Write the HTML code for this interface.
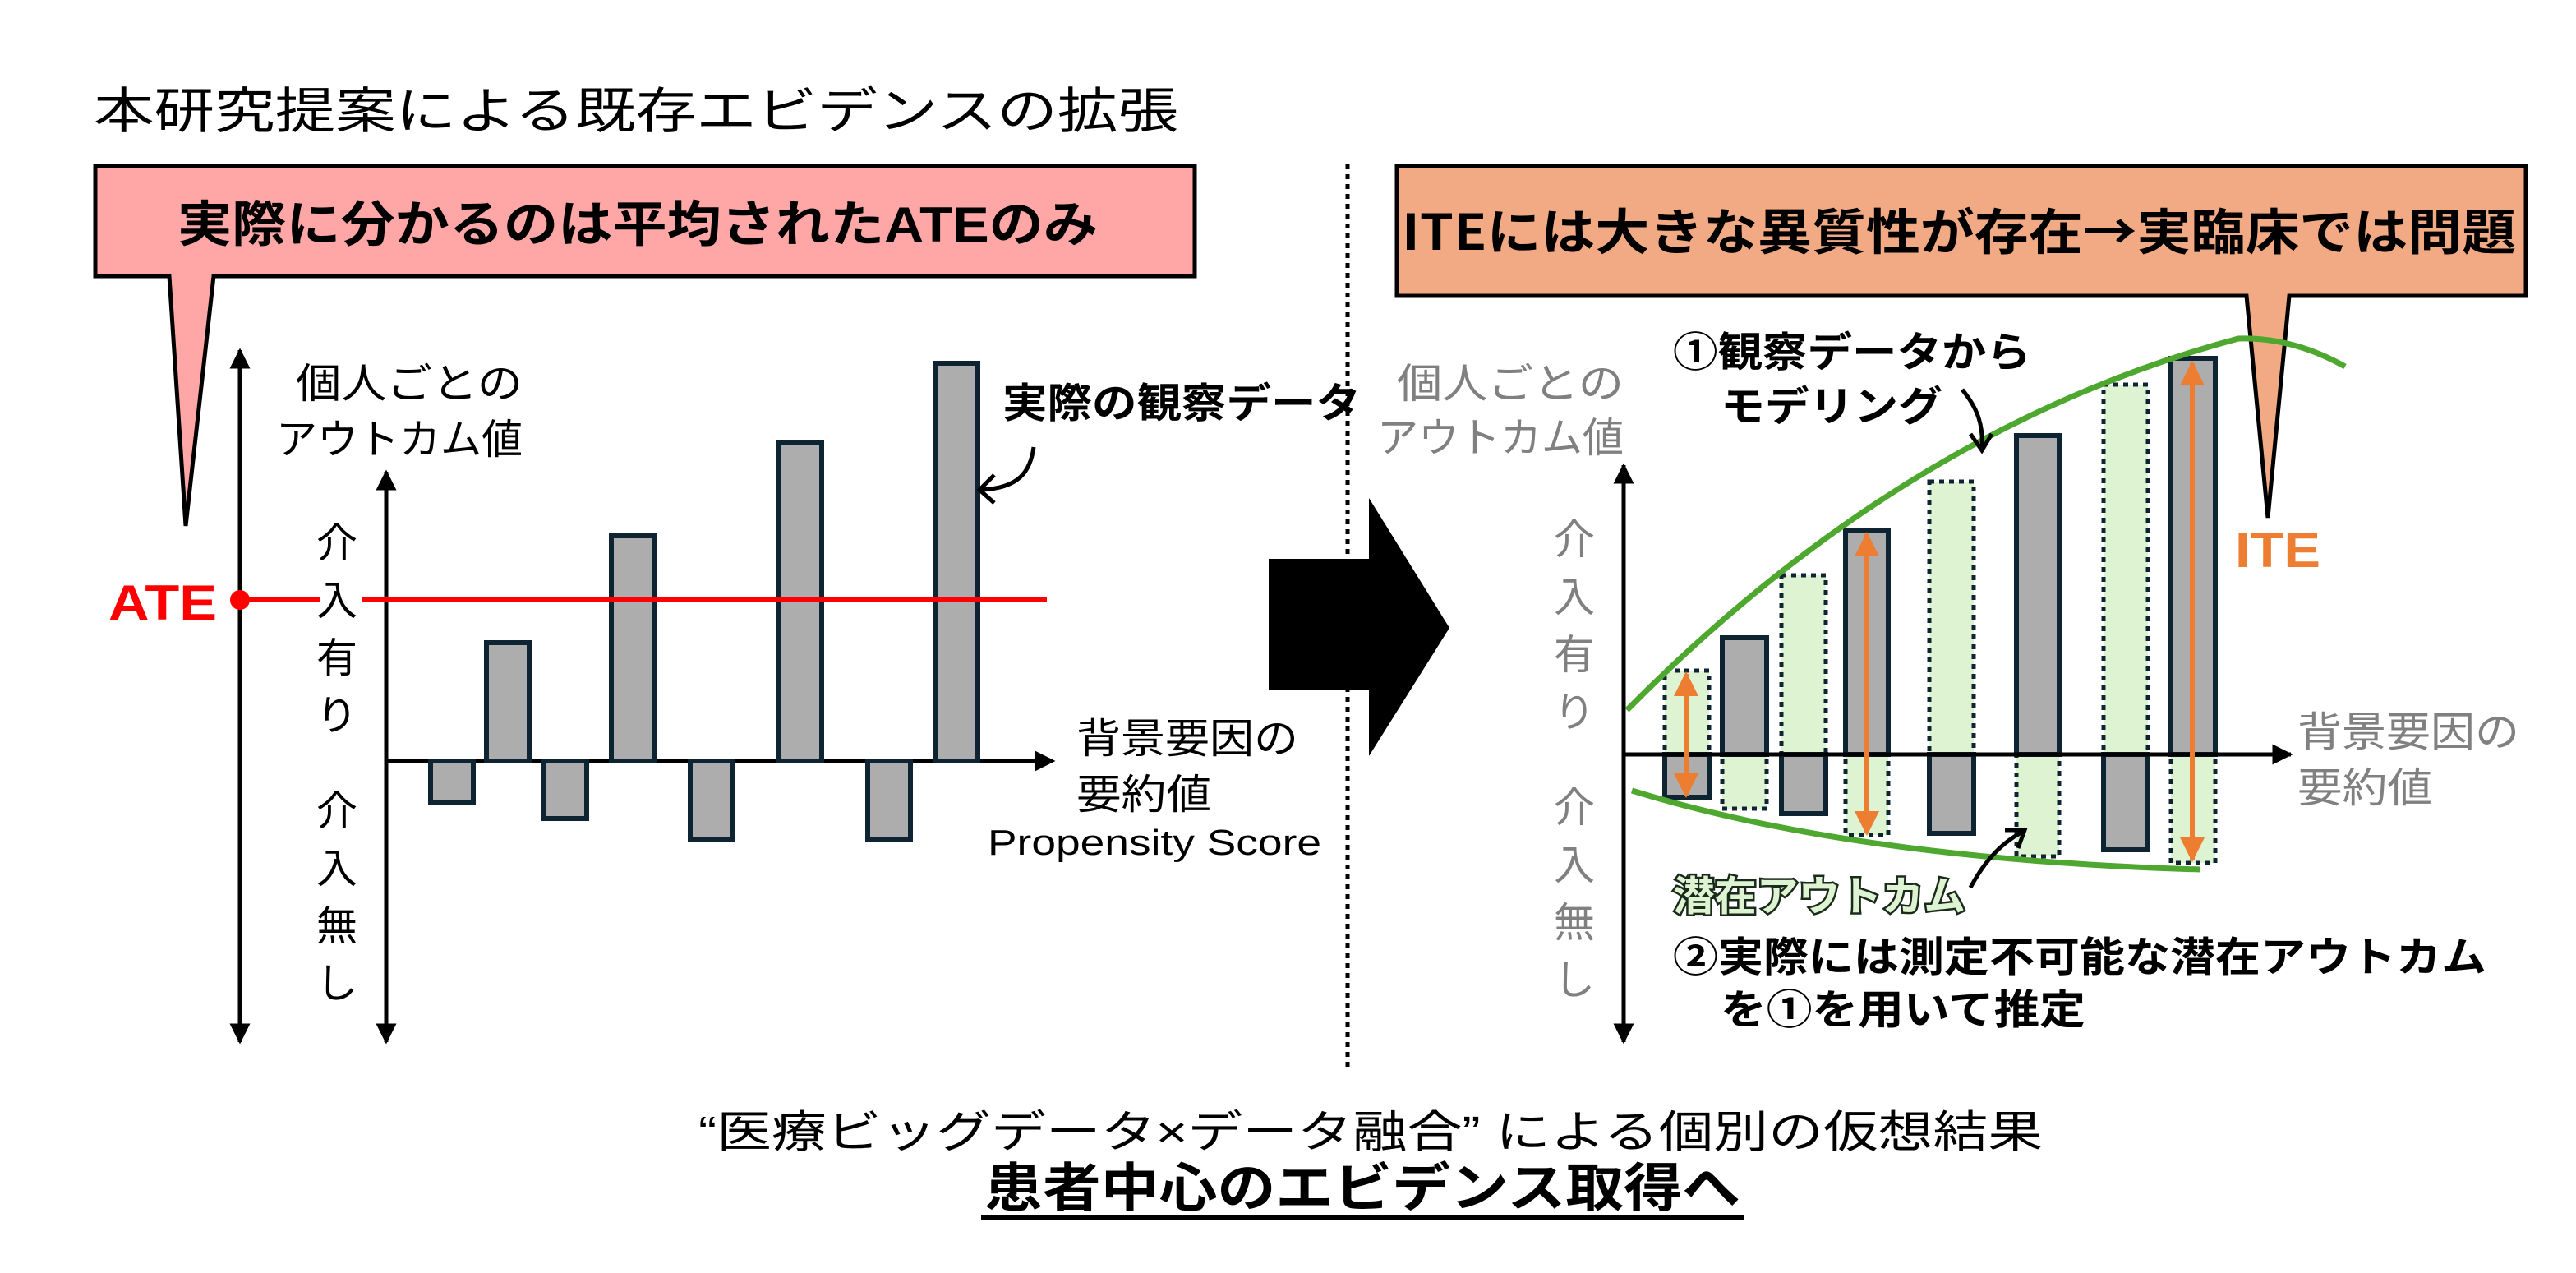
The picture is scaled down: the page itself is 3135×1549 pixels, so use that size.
<!DOCTYPE html>
<html><head><meta charset="utf-8"><style>
html,body{margin:0;padding:0;background:#fff;}
svg{display:block;}
text{font-family:"Liberation Sans","Noto Sans CJK JP",sans-serif;}
.b{font-weight:bold;}
</style></head><body>
<svg width="3135" height="1549" viewBox="0 0 1567.5 774.5" xmlns="http://www.w3.org/2000/svg">
<defs>
<marker id="ah" viewBox="0 0 10 10" refX="9" refY="5" markerWidth="5" markerHeight="5" orient="auto-start-reverse"><path d="M0,0L10,5L0,10z" fill="#000"/></marker>
<marker id="oh" viewBox="0 0 10 10" refX="9" refY="5" markerWidth="5" markerHeight="5" orient="auto-start-reverse"><path d="M0,0L10,5L0,10z" fill="#ED7D31"/></marker>
</defs>
<rect width="1567.5" height="774.5" fill="#fff"/>
<text x="57" y="78" font-size="30" textLength="660" lengthAdjust="spacingAndGlyphs">本研究提案による既存エビデンスの拡張</text>

<!-- left callout -->
<path d="M58,101H727V168H130L113,320L103,168H58Z" fill="#FFA7A7" stroke="#000" stroke-width="2.5"/>
<text class="b" x="108" y="147" font-size="30" textLength="560" lengthAdjust="spacingAndGlyphs">実際に分かるのは平均されたATEのみ</text>

<!-- dotted divider -->
<line x1="820" y1="100" x2="820" y2="650" stroke="#000" stroke-width="2.5" stroke-dasharray="3,3"/>

<!-- left axes -->
<line x1="146" y1="213" x2="146" y2="634" stroke="#000" stroke-width="2.5" marker-start="url(#ah)" marker-end="url(#ah)"/>
<line x1="235" y1="287" x2="235" y2="634" stroke="#000" stroke-width="2.5" marker-start="url(#ah)" marker-end="url(#ah)"/>
<line x1="235" y1="463" x2="641" y2="463" stroke="#000" stroke-width="2.5" marker-end="url(#ah)"/>

<g fill="#ADADAD" stroke="#0F2433" stroke-width="3">
<rect x="296" y="391" width="26" height="72"/>
<rect x="372" y="326" width="26" height="137"/>
<rect x="474" y="269" width="26" height="194"/>
<rect x="569" y="221" width="26" height="242"/>
<rect x="262" y="463" width="26" height="25"/>
<rect x="331" y="463" width="26" height="35"/>
<rect x="420" y="463" width="26" height="48"/>
<rect x="528" y="463" width="26" height="48"/>
</g>
<line x1="146" y1="365" x2="195" y2="365" stroke="#F00" stroke-width="3"/>
<line x1="220" y1="365" x2="637" y2="365" stroke="#F00" stroke-width="3"/>
<circle cx="146" cy="365" r="6" fill="#F00"/>
<text class="b" x="66" y="377" font-size="30" fill="#F00" textLength="66" lengthAdjust="spacingAndGlyphs">ATE</text>

<text x="180" y="242" font-size="25" textLength="138" lengthAdjust="spacingAndGlyphs">個人ごとの</text>
<text x="168" y="276" font-size="25" textLength="150" lengthAdjust="spacingAndGlyphs">アウトカム値</text>
<g font-size="25" text-anchor="middle">
<text x="205" y="339">介</text><text x="205" y="374">入</text><text x="205" y="409">有</text><text x="205" y="444">り</text>
<text x="205" y="502">介</text><text x="205" y="537">入</text><text x="205" y="572">無</text><text x="205" y="607">し</text>
</g>
<text x="655" y="458" font-size="25" textLength="135" lengthAdjust="spacingAndGlyphs">背景要因の</text>
<text x="655" y="492" font-size="25" textLength="82" lengthAdjust="spacingAndGlyphs">要約値</text>
<text x="601" y="520" font-size="22" textLength="203" lengthAdjust="spacingAndGlyphs">Propensity Score</text>
<text class="b" x="610" y="254" font-size="25" textLength="218" lengthAdjust="spacingAndGlyphs">実際の観察データ</text>
<path d="M629,272C627,287 620,297 597,298" fill="none" stroke="#000" stroke-width="2.5"/>
<path d="M605,289L596,298L605,306" fill="none" stroke="#000" stroke-width="2.5"/>

<!-- big arrow -->
<path d="M772,340H833V303L882,382L833,460V420H772Z" fill="#000"/>

<!-- right callout -->
<path d="M850,101H1537V180H1393L1380,315L1367,180H850Z" fill="#F2AA84" stroke="#000" stroke-width="2.5"/>
<text class="b" x="853" y="152" font-size="30" textLength="678" lengthAdjust="spacingAndGlyphs" style='font-family:"Noto Sans CJK JP",sans-serif'>ITEには大きな異質性が存在→実臨床では問題</text>

<!-- right gray labels -->
<g fill="#808080">
<text x="850" y="242" font-size="25" textLength="138" lengthAdjust="spacingAndGlyphs">個人ごとの</text>
<text x="838" y="275" font-size="25" textLength="150" lengthAdjust="spacingAndGlyphs">アウトカム値</text>
<g font-size="25" text-anchor="middle">
<text x="958" y="337">介</text><text x="958" y="372">入</text><text x="958" y="407">有</text><text x="958" y="442">り</text>
<text x="958" y="500">介</text><text x="958" y="535">入</text><text x="958" y="570">無</text><text x="958" y="605">し</text>
</g>
<text x="1398" y="454" font-size="25" textLength="135" lengthAdjust="spacingAndGlyphs">背景要因の</text>
<text x="1398" y="488" font-size="25" textLength="82" lengthAdjust="spacingAndGlyphs">要約値</text>
</g>

<!-- dotted potential bars -->
<g fill="#DDF3D2" stroke="#0F2433" stroke-width="2.5" stroke-dasharray="3,3">
<rect x="1013" y="408" width="27" height="51"/>
<rect x="1048" y="459" width="27" height="33"/>
<rect x="1084" y="350" width="27" height="109"/>
<rect x="1123" y="459" width="26" height="49"/>
<rect x="1174" y="293" width="27" height="166"/>
<rect x="1227" y="459" width="26" height="62"/>
<rect x="1280" y="234" width="27" height="225"/>
<rect x="1321" y="459" width="27" height="66"/>
</g>
<g fill="#ADADAD" stroke="#0F2433" stroke-width="3">
<rect x="1013" y="459" width="27" height="26"/>
<rect x="1048" y="388" width="27" height="71"/>
<rect x="1084" y="459" width="27" height="36"/>
<rect x="1123" y="323" width="26" height="136"/>
<rect x="1174" y="459" width="27" height="48"/>
<rect x="1227" y="265" width="26" height="194"/>
<rect x="1280" y="459" width="27" height="58"/>
<rect x="1321" y="218" width="27" height="241"/>
</g>
<line x1="988" y1="283" x2="988" y2="634" stroke="#000" stroke-width="2.5" marker-start="url(#ah)" marker-end="url(#ah)"/>
<line x1="988" y1="459" x2="1394" y2="459" stroke="#000" stroke-width="2.5" marker-end="url(#ah)"/>

<!-- green curves -->
<path d="M990,432Q1160,260 1362,206Q1395,205 1427,223" fill="none" stroke="#4EA72E" stroke-width="3.5"/>
<path d="M993,481Q1130,523 1339,529" fill="none" stroke="#4EA72E" stroke-width="3.5"/>

<!-- orange arrows -->
<g stroke="#ED7D31" stroke-width="3" marker-start="url(#oh)" marker-end="url(#oh)">
<line x1="1026" y1="410" x2="1026" y2="484"/>
<line x1="1136" y1="325" x2="1136" y2="507"/>
<line x1="1334" y1="221" x2="1334" y2="523"/>
</g>
<text class="b" x="1360" y="345" font-size="30" fill="#ED7D31" textLength="52" lengthAdjust="spacingAndGlyphs">ITE</text>

<text class="b" x="1018" y="223" font-size="25" textLength="218" lengthAdjust="spacingAndGlyphs">①観察データから</text>
<text class="b" x="1047" y="256" font-size="25" textLength="135" lengthAdjust="spacingAndGlyphs">モデリング</text>
<path d="M1194,237C1203,248 1207,258 1206,273" fill="none" stroke="#000" stroke-width="2.5"/>
<path d="M1199,264L1206,274L1212,264" fill="none" stroke="#000" stroke-width="2.5"/>

<text class="b" x="1018" y="554" font-size="25" fill="#DDF3D2" stroke="#1a2a1a" stroke-width="2.5" paint-order="stroke" textLength="178" lengthAdjust="spacingAndGlyphs">潜在アウトカム</text>
<path d="M1199,540C1207,525 1217,513 1231,506" fill="none" stroke="#000" stroke-width="2.5"/>
<path d="M1220,505L1232,505L1228,516" fill="none" stroke="#000" stroke-width="2.5"/>

<text class="b" x="1018" y="591" font-size="25" textLength="495" lengthAdjust="spacingAndGlyphs">②実際には測定不可能な潜在アウトカム</text>
<text class="b" x="1047" y="623" font-size="25" textLength="222" lengthAdjust="spacingAndGlyphs">を①を用いて推定</text>

<!-- bottom -->
<text x="834" y="698" font-size="27" text-anchor="middle" textLength="818" lengthAdjust="spacingAndGlyphs">“医療ビッグデータ×データ融合” による個別の仮想結果</text>
<text class="b" x="829" y="734" font-size="32" text-anchor="middle" textLength="460" lengthAdjust="spacingAndGlyphs">患者中心のエビデンス取得へ</text>
<rect x="597" y="739" width="464" height="3" fill="#000"/>
</svg>
</body></html>
